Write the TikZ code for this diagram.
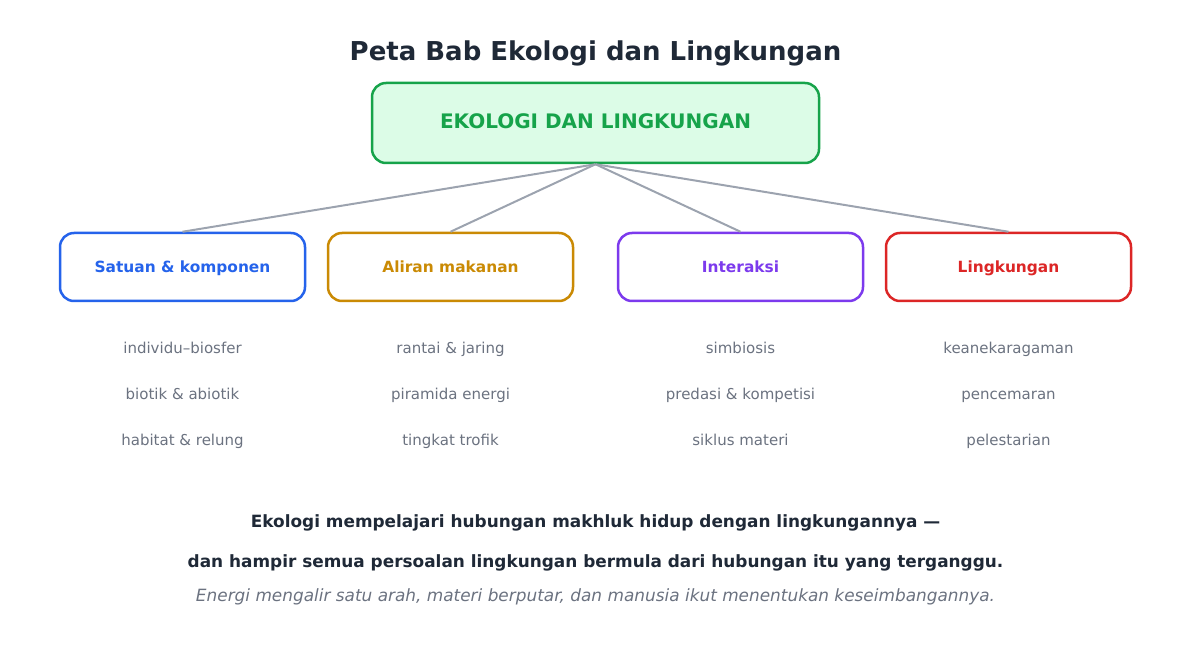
\documentclass[tikz,border=0pt]{standalone}
\usepackage{fontspec}
\setmainfont{DejaVu Sans}
\definecolor{titlec}{HTML}{1F2937}
\definecolor{rootfill}{HTML}{DCFCE7}
\definecolor{rootc}{HTML}{16A34A}
\definecolor{linec}{HTML}{9CA3AF}
\definecolor{itemc}{HTML}{6B7280}
\definecolor{bluec}{HTML}{2563EB}
\definecolor{goldc}{HTML}{CA8A04}
\definecolor{purplec}{HTML}{7C3AED}
\definecolor{redc}{HTML}{DC2626}
\tikzset{
  root/.style={draw=rootc, fill=rootfill, line width=2.5pt, rounded corners=14pt,
    minimum width=447pt, minimum height=80pt, inner sep=0pt},
  roottext/.style={anchor=base, inner sep=0pt, font=\fontsize{20}{24}\selectfont\bfseries, text=rootc},
  cat/.style={draw=#1, fill=white, line width=2.5pt, rounded corners=14pt,
    minimum width=245pt, minimum height=68pt, inner sep=0pt},
  cattext/.style={anchor=base, inner sep=0pt, font=\fontsize{15.4}{18}\selectfont\bfseries, text=#1},
  item/.style={anchor=base, font=\fontsize{15}{18}\selectfont, text=itemc, inner sep=0pt},
  conn/.style={draw=linec, line width=2pt},
  summ/.style={anchor=base, inner sep=0pt, font=\fontsize{16.9}{20}\selectfont\bfseries, text=titlec},
}
\begin{document}
\begin{tikzpicture}[x=1pt,y=-1pt]
\useasboundingbox (0,0) rectangle (1191,652);
\node[anchor=base, inner sep=0pt, font=\fontsize{26}{30}\selectfont\bfseries, text=titlec] (title) at (595.5,61) {Peta Bab Ekologi dan Lingkungan};
\node[root] (root) at (595.5,123) {};
\node[roottext] (roott) at (595.5,129) {EKOLOGI DAN LINGKUNGAN};
\node[cat=bluec] (c1) at (182.5,267) {};
\node[cat=goldc] (c2) at (450.5,267) {};
\node[cat=purplec] (c3) at (740.5,267) {};
\node[cat=redc] (c4) at (1008.5,267) {};
\node[cattext=bluec] (t1) at (182.5,272.5) {Satuan \& komponen};
\node[cattext=goldc] (t2) at (450.5,272.5) {Aliran makanan};
\node[cattext=purplec] (t3) at (740.5,272.5) {Interaksi};
\node[cattext=redc] (t4) at (1008.5,272.5) {Lingkungan};
\foreach \c in {c1,c2,c3,c4} \draw[conn] (root.south) -- (\c.north);
\node[item] (a1) at (182.5,353) {individu–biosfer};
\node[item] (a2) at (182.5,399) {biotik \& abiotik};
\node[item] (a3) at (182.5,445) {habitat \& relung};
\node[item] (b1) at (450.5,353) {rantai \& jaring};
\node[item] (b2) at (450.5,399) {piramida energi};
\node[item] (b3) at (450.5,445) {tingkat trofik};
\node[item] (d1) at (740.5,353) {simbiosis};
\node[item] (d2) at (740.5,399) {predasi \& kompetisi};
\node[item] (d3) at (740.5,445) {siklus materi};
\node[item] (e1) at (1008.5,353) {keanekaragaman};
\node[item] (e2) at (1008.5,399) {pencemaran};
\node[item] (e3) at (1008.5,445) {pelestarian};
\node[summ] (s1) at (595.5,527) {Ekologi mempelajari hubungan makhluk hidup dengan lingkungannya —};
\node[summ] (s2) at (595.5,567) {dan hampir semua persoalan lingkungan bermula dari hubungan itu yang terganggu.};
\node[anchor=base, inner sep=0pt, font=\fontsize{16.9}{20}\selectfont\itshape, text=itemc] (s3) at (595.5,601) {Energi mengalir satu arah, materi berputar, dan manusia ikut menentukan keseimbangannya.};
\end{tikzpicture}
\end{document}
